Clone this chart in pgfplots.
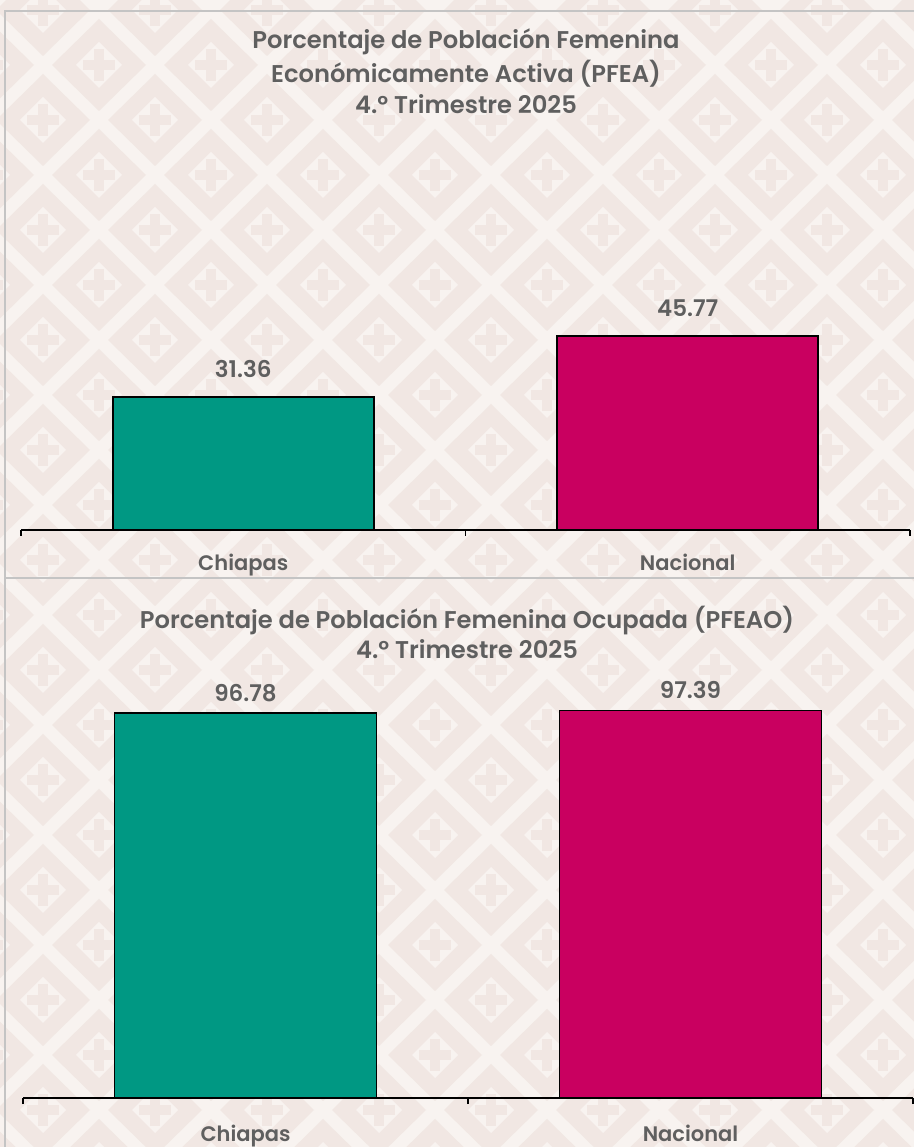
\documentclass[border=0pt]{standalone}
\usepackage{pgfplots}
\pgfplotsset{compat=1.18}
\usepackage{fontspec}
\setmainfont{Poppins}[BoldFont={Poppins SemiBold}]
\definecolor{txt}{HTML}{5F5F5F}
\definecolor{cteal}{HTML}{009883}
\definecolor{cmag}{HTML}{C90060}
\definecolor{bgA}{HTML}{F8F3F0}
\definecolor{bgB}{HTML}{F1E7E3}
\definecolor{frm}{HTML}{C4C4C4}
\pgfplotsset{
  panel/.style={
    scale only axis, xmin=-0.5, xmax=1.5, ymin=0,
    axis x line*=bottom, hide y axis,
    x axis line style={black, line width=0.75pt, -},
    xtick={0,1}, xticklabels={Chiapas, Nacional},
    minor xtick={-0.5,0.5,1.5},
    major tick length=0pt, minor tick length=3pt, tick align=outside,
    minor x tick style={black, line width=0.6pt},
    xticklabel style={font=\bfseries\fontsize{10.5}{10.5}\selectfont, text=txt, anchor=base},
    /pgf/number format/assume math mode=true,
    /pgf/number format/.cd, fixed, fixed zerofill, precision=2, /pgfplots/.cd,
    nodes near coords,
    every node near coord/.append style={font=\bfseries\fontsize{11.5}{11.5}\selectfont, text=txt, anchor=center},
    clip=false,
  }
}
\begin{document}
\begin{tikzpicture}
\begin{scope}[x=0.5pt,y=0.5pt]
\fill[bgA] (0,0) rectangle (914,1147);
\begin{scope}
\clip (0,0) rectangle (914,1147);
\foreach \m in {0,...,17}{
  \foreach \n in {0,...,21}{
    \pgfmathtruncatemacro\s{\m+\n}
    \ifodd\s
      \pgfmathsetmacro\cx{-13+56*\m}
      \pgfmathsetmacro\cy{1147-(10+55*\n)}
      \fill[bgB] (\cx-47,\cy) -- (\cx,\cy+46) -- (\cx+47,\cy) -- (\cx,\cy-46) -- cycle;
      \fill[bgA] (\cx-23,\cy) -- (\cx,\cy+23) -- (\cx+23,\cy) -- (\cx,\cy-23) -- cycle;
      \fill[bgB] (\cx-16,\cy-5) rectangle (\cx+16,\cy+5);
      \fill[bgB] (\cx-5,\cy-16) rectangle (\cx+5,\cy+16);
    \fi
  }
}
\end{scope}
% frames
\draw[frm, line width=1pt] (5,0) -- (5,1136) -- (914,1136);
\draw[frm, line width=1pt] (5,569) -- (914,569);
% titles
\begin{scope}[every node/.style={font=\bfseries\fontsize{12.1}{12.1}\selectfont, text=txt, anchor=base}]
\node at (466,1147-49) {Porcentaje de Población Femenina};
\node at (466,1147-83) {Económicamente Activa (PFEA)};
\node at (466,1147-114) {4.º Trimestre 2025};
\node at (467,1147-629) {Porcentaje de Población Femenina Ocupada (PFEAO)};
\node at (467,1147-659) {4.º Trimestre 2025};
\end{scope}
\end{scope}
% panel 1
\begin{axis}[panel, at={(10.5pt,308.5pt)}, anchor=south west,
  width=444.5pt, height=200pt, ymax=94.34,
  xticklabel style={yshift=-20.5pt},
  every node near coord/.append style={yshift=14pt},
  ybar, bar width=130.5pt]
\addplot[fill=cteal, draw=black, line width=0.9pt, bar shift=0pt] coordinates {(0,31.36)};
\addplot[fill=cmag, draw=black, line width=0.9pt, bar shift=0pt] coordinates {(1,45.77)};
\end{axis}
% panel 2
\begin{axis}[panel, at={(11.5pt,24.5pt)}, anchor=south west,
  width=445pt, height=209pt, ymax=105.03,
  xticklabel style={yshift=-21.5pt},
  every node near coord/.append style={yshift=10pt},
  ybar, bar width=131pt]
\addplot[fill=cteal, draw=black, line width=0.9pt, bar shift=0pt] coordinates {(0,96.78)};
\addplot[fill=cmag, draw=black, line width=0.9pt, bar shift=0pt] coordinates {(1,97.39)};
\end{axis}
\pgfresetboundingbox
\useasboundingbox (0pt,0pt) rectangle (457pt,573.5pt);
\end{tikzpicture}
\end{document}
